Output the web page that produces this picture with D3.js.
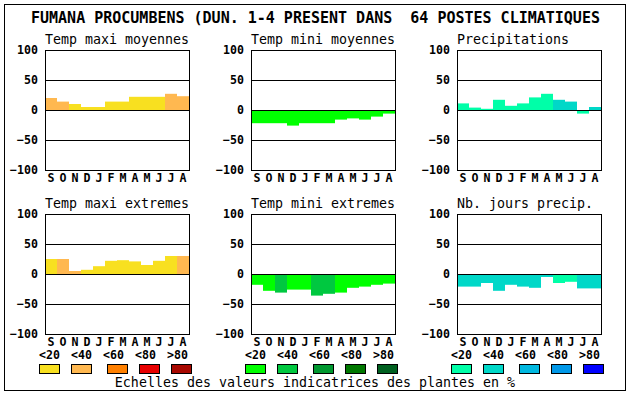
<!DOCTYPE html>
<html>
<head>
<meta charset="utf-8">
<script src="https://cdn.jsdelivr.net/npm/d3@7"></script>
<style>
  body { margin: 0; background: #fff; }
  svg text { font-family: "DejaVu Sans Mono", monospace; fill: #000; }
</style>
</head>
<body>
<svg id="chart" width="630" height="394"></svg>
<script>
// data
var title = 'FUMANA PROCUMBENS (DUN. 1-4 PRESENT DANS  64 POSTES CLIMATIQUES'
var footer = 'Echelles des valeurs indicatrices des plantes en %'
var months = ['S', 'O', 'N', 'D', 'J', 'F', 'M', 'A', 'M', 'J', 'J', 'A']
var yTicks = [100, 50, 0, -50, -100]
var classLabels = ['<20', '<40', '<60', '<80', '>80']

var panelTitles = ['Temp maxi moyennes', 'Temp mini moyennes', 'Precipitations',
  'Temp maxi extremes', 'Temp mini extremes', 'Nb. jours precip.']

var maxiMoy = [20, 14, 10, 5, 5, 14, 14, 22, 22, 22, 27, 23]
var maxiMoyCls = [1, 1, 0, 0, 0, 0, 0, 0, 0, 0, 1, 1]
var miniMoy = [-22, -22, -22, -26, -22, -22, -22, -16, -14, -16, -11, -6]
var miniMoyCls = [0, 0, 0, 0, 0, 0, 0, 0, 0, 0, 0, 0]
var precip = [11, 4, 2, 17, 7, 11, 21, 27, 17, 14, -6, 5]
var precipCls = [0, 0, 0, 0, 0, 0, 0, 0, 1, 1, 0, 1]
var maxiExt = [25, 25, 5, 7, 13, 22, 23, 21, 15, 22, 30, 30]
var maxiExtCls = [0, 1, 1, 0, 0, 0, 0, 0, 0, 0, 0, 1]
var miniExt = [-18, -28, -31, -26, -26, -36, -33, -31, -23, -21, -18, -16]
var miniExtCls = [0, 0, 1, 0, 0, 1, 1, 0, 0, 0, 0, 0]
var joursPrec = [-21, -21, -15, -28, -18, -21, -23, -5, -15, -13, -24, -24]
var joursPrecCls = [1, 1, 1, 1, 1, 1, 1, 1, 0, 0, 1, 1]

var warmColors = ['#f8e020', '#ffb850', '#ff8000', '#e80000', '#a80800']
var greenColors = ['#00ff00', '#00c840', '#009830', '#007800', '#006020']
var blueColors = ['#00ffa8', '#00d8c8', '#00b8e0', '#0098e8', '#0000ff']

var panels = [
  {values: maxiMoy, cls: maxiMoyCls, colors: warmColors},
  {values: miniMoy, cls: miniMoyCls, colors: greenColors},
  {values: precip, cls: precipCls, colors: blueColors},
  {values: maxiExt, cls: maxiExtCls, colors: warmColors},
  {values: miniExt, cls: miniExtCls, colors: greenColors},
  {values: joursPrec, cls: joursPrecCls, colors: blueColors}
]

// layout
var colX = [45, 251, 457]
var rowY = [50, 214]
var pw = 144
var ph = 120
var legendBoxX = [-6, 26, 62, 94, 126]

var svg = d3.select('#chart')

svg.append('rect')
    .attr('x', 4.5).attr('y', 4.5)
    .attr('width', 621).attr('height', 386)
    .attr('fill', 'none').attr('stroke', '#000')

svg.append('text')
    .attr('x', 31).attr('y', 18)
    .attr('dy', '0.35em')
    .style('font-size', '15px')
    .style('font-weight', 'bold')
    .style('white-space', 'pre')
    .text(title)

var x = d3.scaleBand().domain(d3.range(months.length)).range([0, pw])
var y = d3.scaleLinear().domain([-100, 100]).range([ph, 0])

panels.forEach(function (p, i) {
  var g = svg.append('g')
      .attr('transform', `translate(${colX[i % 3]}, ${rowY[Math.floor(i / 3)]})`)

  g.append('text')
      .attr('x', 0).attr('y', -11)
      .attr('dy', '0.35em')
      .style('font-size', '13.3px')
      .text(panelTitles[i])

  /*
      bars
  */
  g.selectAll('rect.bar')
      .data(p.values)
      .enter()
      .append('rect')
      .classed('bar', true)
      .attr('x', (d, j) => x(j))
      .attr('width', x.bandwidth())
      .attr('y', d => Math.min(y(d), y(0)))
      .attr('height', d => Math.abs(y(d) - y(0)))
      .attr('fill', (d, j) => p.colors[p.cls[j]])

  // grid lines at 50, 0, -50
  g.selectAll('line.grid')
      .data([50, 0, -50])
      .enter()
      .append('line')
      .attr('x1', 0).attr('x2', pw)
      .attr('y1', d => Math.round(y(d)) + 0.5)
      .attr('y2', d => Math.round(y(d)) + 0.5)
      .attr('stroke', '#000')

  g.append('rect')
      .attr('x', 0.5).attr('y', 0.5)
      .attr('width', pw).attr('height', ph)
      .attr('fill', 'none').attr('stroke', '#000')

  var yAxis = g.append('g')
      .call(d3.axisLeft(y).tickValues(yTicks).tickSize(0).tickPadding(7))
  yAxis.select('.domain').remove()
  yAxis.selectAll('text')
      .style('font-family', '"DejaVu Sans Mono", monospace')
      .style('font-size', '11.6px')
      .style('font-weight', 'bold')
      .attr('fill', '#000')

  var xAxis = g.append('g')
      .attr('transform', `translate(0, ${ph})`)
      .call(d3.axisBottom(x).tickSize(0).tickPadding(4).tickFormat(j => months[j]))
  xAxis.select('.domain').remove()
  xAxis.selectAll('text')
      .style('font-family', '"DejaVu Sans Mono", monospace')
      .style('font-size', '11.6px')
      .style('font-weight', 'bold')
      .attr('fill', '#000')
})

// legends, one per column
colX.forEach(function (cx, i) {
  var colors = panels[i].colors
  var lg = svg.append('g').attr('transform', `translate(${cx}, 0)`)

  lg.selectAll('text')
      .data(classLabels)
      .enter()
      .append('text')
      .attr('x', (d, j) => -6 + j * 32)
      .attr('y', 355)
      .attr('dy', '0.35em')
      .style('font-size', '11.6px')
      .style('font-weight', 'bold')
      .text(d => d)

  lg.selectAll('rect')
      .data(colors)
      .enter()
      .append('rect')
      .attr('x', (d, j) => legendBoxX[j] + 0.5)
      .attr('y', 364.5)
      .attr('width', 20)
      .attr('height', 9)
      .attr('fill', d => d)
      .attr('stroke', '#000')
})

svg.append('text')
    .attr('x', 315).attr('y', 382)
    .attr('dy', '0.35em')
    .attr('text-anchor', 'middle')
    .style('font-size', '13.3px')
    .text(footer)
</script>
</body>
</html>
